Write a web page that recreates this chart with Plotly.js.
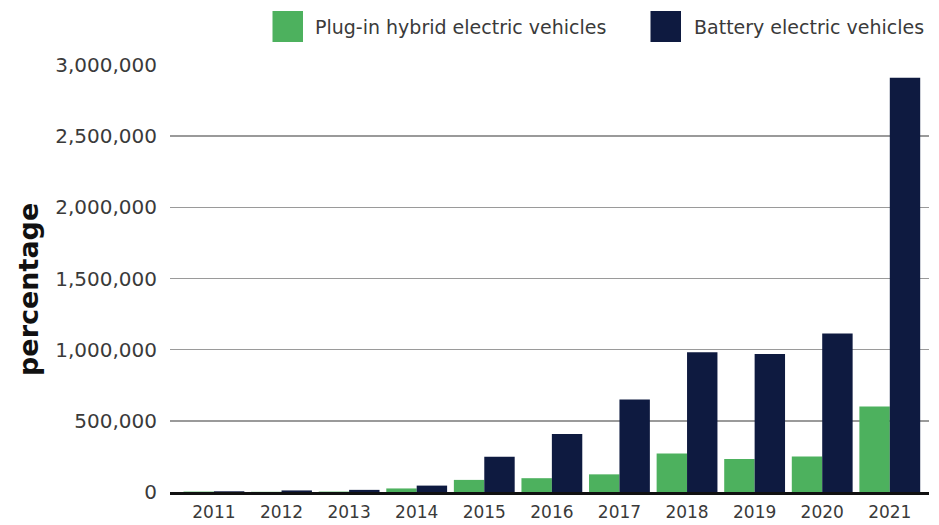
<!DOCTYPE html>
<html>
<head>
<meta charset="utf-8">
<script src="https://cdn.plot.ly/plotly-3.0.1.min.js"></script>
<style>
  html, body { margin: 0; padding: 0; background: #fff; }
  #chart { width: 939px; height: 525px; }
</style>
</head>
<body>
<div id="chart"></div>
<script>
// Annual electric vehicle sales by powertrain type
const years = ['2011', '2012', '2013', '2014', '2015', '2016', '2017', '2018', '2019', '2020', '2021'];
const phevSales = [3000, 1500, 3000, 25000, 85000, 97000, 124000, 270000, 231000, 250000, 600000];
const bevSales  = [5000, 11000, 15000, 45000, 247000, 408000, 650000, 982000, 970000, 1113000, 2910000];
const yTicks = [0, 500000, 1000000, 1500000, 2000000, 2500000, 3000000];
const yTickText = ['0', '500,000', '1,000,000', '1,500,000', '2,000,000', '2,500,000', '3,000,000'];
const seriesNames = ['Plug-in hybrid electric vehicles', 'Battery electric vehicles'];
const seriesColors = ['#4db15e', '#0e1a40'];

// Plot frame, in pixels
const W = 939, H = 525;
const M = { l: 170, r: 10, t: 65, b: 33 };
const plotW = W - M.l - M.r;
const plotH = H - M.t - M.b;
const px = x => (x - M.l) / plotW;          // page x -> paper x
const py = y => (H - M.b - y) / plotH;      // page y -> paper y

const traces = [phevSales, bevSales].map((vals, i) => ({
  type: 'bar',
  name: seriesNames[i],
  x: years,
  y: vals,
  marker: { color: seriesColors[i], line: { width: 0 } },
  showlegend: false,
  hoverinfo: 'x+y+name'
}));

// Legend built from squares and labels
const legendItems = [
  { sx: 272.5, tx: 313 },
  { sx: 650.5, tx: 692 }
];
const shapes = legendItems.map((it, i) => ({
  type: 'rect', xref: 'paper', yref: 'paper',
  x0: px(it.sx), x1: px(it.sx + 30.5),
  y0: py(42), y1: py(11),
  fillcolor: seriesColors[i], line: { width: 0 }
}));
const annotations = legendItems.map((it, i) => ({
  xref: 'paper', yref: 'paper',
  x: px(it.tx), y: py(26.5),
  xanchor: 'left', yanchor: 'middle',
  text: seriesNames[i], showarrow: false,
  font: { family: 'DejaVu Sans', size: 19, color: '#3a3a3a' }
}));
annotations.push({
  xref: 'paper', yref: 'paper',
  x: px(28), y: py(290),
  xanchor: 'center', yanchor: 'middle',
  textangle: -90, text: 'percentage', showarrow: false,
  font: { family: 'DejaVu Sans', size: 27, color: '#111', weight: 'bold' }
});

const layout = {
  width: W, height: H,
  margin: M,
  paper_bgcolor: '#fff', plot_bgcolor: '#fff',
  barmode: 'group',
  bargap: 0.1, bargroupgap: 0,
  font: { family: 'DejaVu Sans', color: '#3a3a3a' },
  xaxis: {
    type: 'category',
    range: [-0.65, 10.58],
    showgrid: false,
    showline: true, linecolor: '#111', linewidth: 3,
    ticks: '', ticklabelstandoff: 3,
    tickfont: { family: 'DejaVu Sans', size: 17, color: '#3a3a3a' },
    fixedrange: true
  },
  yaxis: {
    range: [0, 3000000],
    tickvals: yTicks, ticktext: yTickText,
    showgrid: true, gridcolor: '#9a9a9a', gridwidth: 1.5,
    zeroline: false, showline: false,
    ticks: '', ticklabelstandoff: 12,
    tickfont: { family: 'DejaVu Sans', size: 20, color: '#3a3a3a' },
    fixedrange: true
  },
  shapes: shapes,
  annotations: annotations
};

Plotly.newPlot('chart', traces, layout, { displayModeBar: false, staticPlot: true });
</script>
</body>
</html>
